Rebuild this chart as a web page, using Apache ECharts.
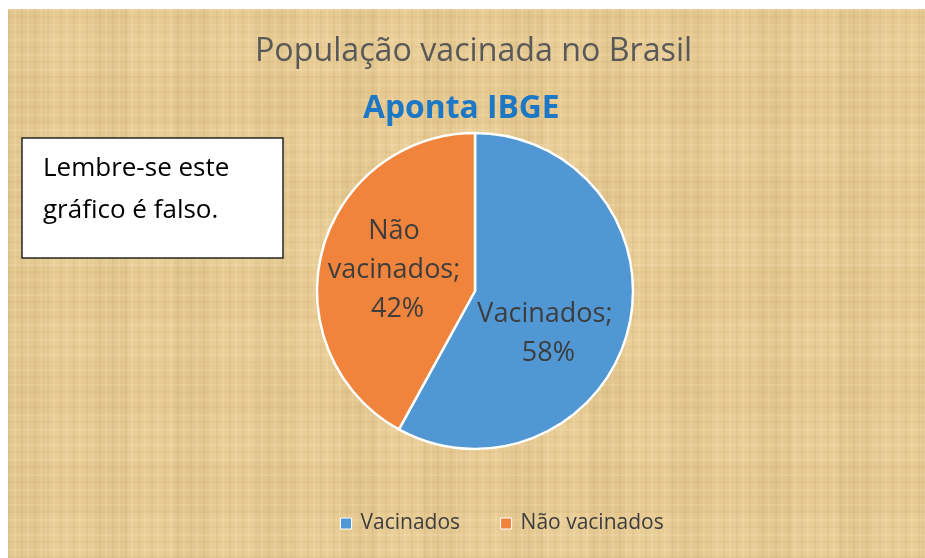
<!DOCTYPE html>
<html>
<head>
<meta charset="utf-8">
<script src="https://cdn.jsdelivr.net/npm/echarts@6/dist/echarts.min.js"></script>
<style>
    html, body { margin: 0; padding: 0; background: #fff; }
    #wrap {
        position: absolute; left: 8px; top: 9px; width: 917px; height: 549px;
        background-color: #e6ca92;
        background-image:
            repeating-linear-gradient(90deg, rgba(170, 140, 80, 0.10) 0 2px, transparent 2px 6px, rgba(255, 236, 200, 0.16) 6px 8px, transparent 8px 13px),
            repeating-linear-gradient(0deg, rgba(170, 140, 80, 0.08) 0 2px, transparent 2px 7px, rgba(255, 240, 210, 0.14) 7px 9px, transparent 9px 15px),
            repeating-linear-gradient(90deg, rgba(200, 170, 110, 0.14) 0 37px, transparent 37px 83px),
            repeating-linear-gradient(0deg, rgba(245, 220, 170, 0.18) 0 45px, transparent 45px 97px);
    }
    #chart { width: 917px; height: 549px; }
</style>
</head>
<body>
<div id="wrap"><div id="chart"></div></div>
<script>
// dados
const categories = ["Vacinados", "Não vacinados"];
const values = [58, 42];
const colors = ["#5197d3", "#f0843c"];
// deslocamento dos rótulos dentro das fatias
const labelOffsets = [[-6, 22], [2, 0]];

const ecIns = echarts.init(document.getElementById("chart"));

const option = {
    backgroundColor: "transparent",
    title: [
        {
            text: "População vacinada no Brasil",
            left: 247,
            top: 27,
            padding: 0,
            textStyle: { fontFamily: "Open Sans", fontSize: 32.2, fontWeight: "normal", color: "#595959" }
        },
        {
            text: "Aponta IBGE",
            left: 355,
            top: 84,
            padding: 0,
            textStyle: { fontFamily: "Open Sans", fontSize: 31.8, fontWeight: "bold", color: "#1c78c4" }
        }
    ],
    legend: {
        data: categories,
        left: 332,
        top: 504,
        padding: 0,
        icon: "rect",
        itemWidth: 11,
        itemHeight: 11,
        itemGap: 40,
        itemStyle: { borderColor: "#fff", borderWidth: 1 },
        textStyle: { fontFamily: "Open Sans", fontSize: 21, color: "#3d3d3d", padding: [0, 0, 0, 4] }
    },
    graphic: [
        {
            type: "rect",
            shape: { x: 14, y: 129, width: 261, height: 120 },
            style: { fill: "#fff", stroke: "#262626", lineWidth: 1.5 }
        },
        {
            type: "text",
            x: 35,
            y: 139,
            style: {
                text: "Lembre-se este\ngráfico é falso.",
                fontFamily: "Open Sans",
                fontSize: 26,
                lineHeight: 42,
                fill: "#000",
                verticalAlign: "top"
            }
        }
    ],
    series: [
        {
            type: "pie",
            center: [467, 282],
            radius: 158,
            startAngle: 90,
            clockwise: true,
            silent: true,
            legendHoverLink: false,
            avoidLabelOverlap: false,
            labelLayout: { hideOverlap: false },
            itemStyle: { borderColor: "#fff", borderWidth: 2.5 },
            label: {
                show: true,
                position: "inside",
                fontFamily: "Open Sans",
                fontSize: 27,
                lineHeight: 39,
                color: "#3d3d3d",
                width: 150,
                overflow: "break",
                formatter: (p) => p.name + "; " + Math.round(p.percent) + "%"
            },
            data: categories.map((name, i) => ({
                name: name,
                value: values[i],
                itemStyle: { color: colors[i] },
                label: { offset: labelOffsets[i] }
            }))
        }
    ]
};

ecIns.setOption(option);
</script>
</body>
</html>
